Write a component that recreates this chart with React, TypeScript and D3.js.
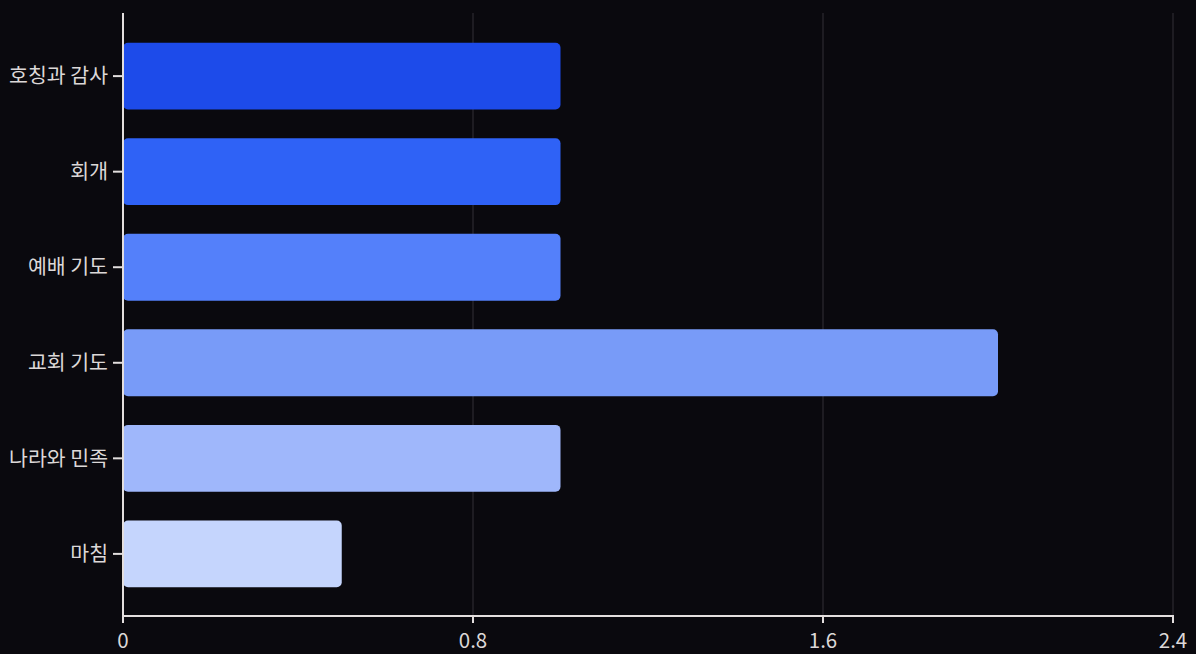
import React from "react";
import * as d3 from "d3";

const categories = ["호칭과 감사", "회개", "예배 기도", "교회 기도", "나라와 민족", "마침"];
const values = [1, 1, 1, 2, 1, 0.5];
const barColors = ["#1d4bea", "#2f62f6", "#5480fa", "#789bf8", "#9fb7fb", "#c5d5fd"];
const xTicks = [0, 0.8, 1.6, 2.4];

const W = 1196;
const H = 654;
const margin = { left: 123, right: 23, top: 13, bottom: 38 };

export default function App() {
  const x = d3.scaleLinear().domain([0, 2.4]).range([margin.left, W - margin.right]);
  const y = d3
    .scaleBand<string>()
    .domain(categories)
    .range([14, H - margin.bottom])
    .paddingInner(0.3)
    .paddingOuter(0.3);
  const y0 = margin.top;
  const y1 = H - margin.bottom;
  const font = "'Noto Sans CJK KR', 'Noto Sans', sans-serif";
  const axisColor = "#e3dede";
  const textColor = "#dcd8d8";

  return (
    <svg
      width={W}
      height={H}
      style={{ position: "absolute", left: 0, top: 0, background: "#0a090e" }}
    >
      <rect x={0} y={0} width={W} height={H} fill="#0a090e" />
      {xTicks.slice(1).map((t) => (
        <line key={"g" + t} x1={x(t)} x2={x(t)} y1={y0} y2={y1} stroke="#323137" strokeWidth={1} />
      ))}
      {categories.map((c, i) => (
        <rect
          key={c}
          x={x(0)}
          y={y(c)!}
          width={x(values[i]) - x(0)}
          height={y.bandwidth()}
          rx={5}
          ry={5}
          fill={barColors[i]}
        />
      ))}
      {/* y axis */}
      <line x1={x(0)} x2={x(0)} y1={y0} y2={y1 + 1} stroke={axisColor} strokeWidth={2} />
      {categories.map((c) => {
        const cy = y(c)! + y.bandwidth() / 2;
        return (
          <g key={"yl" + c}>
            <line x1={x(0) - 10} x2={x(0)} y1={cy} y2={cy} stroke={axisColor} strokeWidth={2} />
            <text
              x={x(0) - 15}
              y={cy}
              dy="0.35em"
              textAnchor="end"
              fill={textColor}
              fontFamily={font}
              fontSize={20.5}
            >
              {c}
            </text>
          </g>
        );
      })}
      {/* x axis */}
      <line x1={x(0) - 1} x2={x(2.4) + 1} y1={y1} y2={y1} stroke={axisColor} strokeWidth={2} />
      {xTicks.map((t) => (
        <g key={"xt" + t}>
          <line x1={x(t)} x2={x(t)} y1={y1} y2={y1 + 7} stroke={axisColor} strokeWidth={2} />
          <text
            x={x(t)}
            y={y1 + 25}
            dy="0.35em"
            textAnchor="middle"
            fill={textColor}
            fontFamily={font}
            fontSize={20.5}
          >
            {d3.format("")(t)}
          </text>
        </g>
      ))}
    </svg>
  );
}
